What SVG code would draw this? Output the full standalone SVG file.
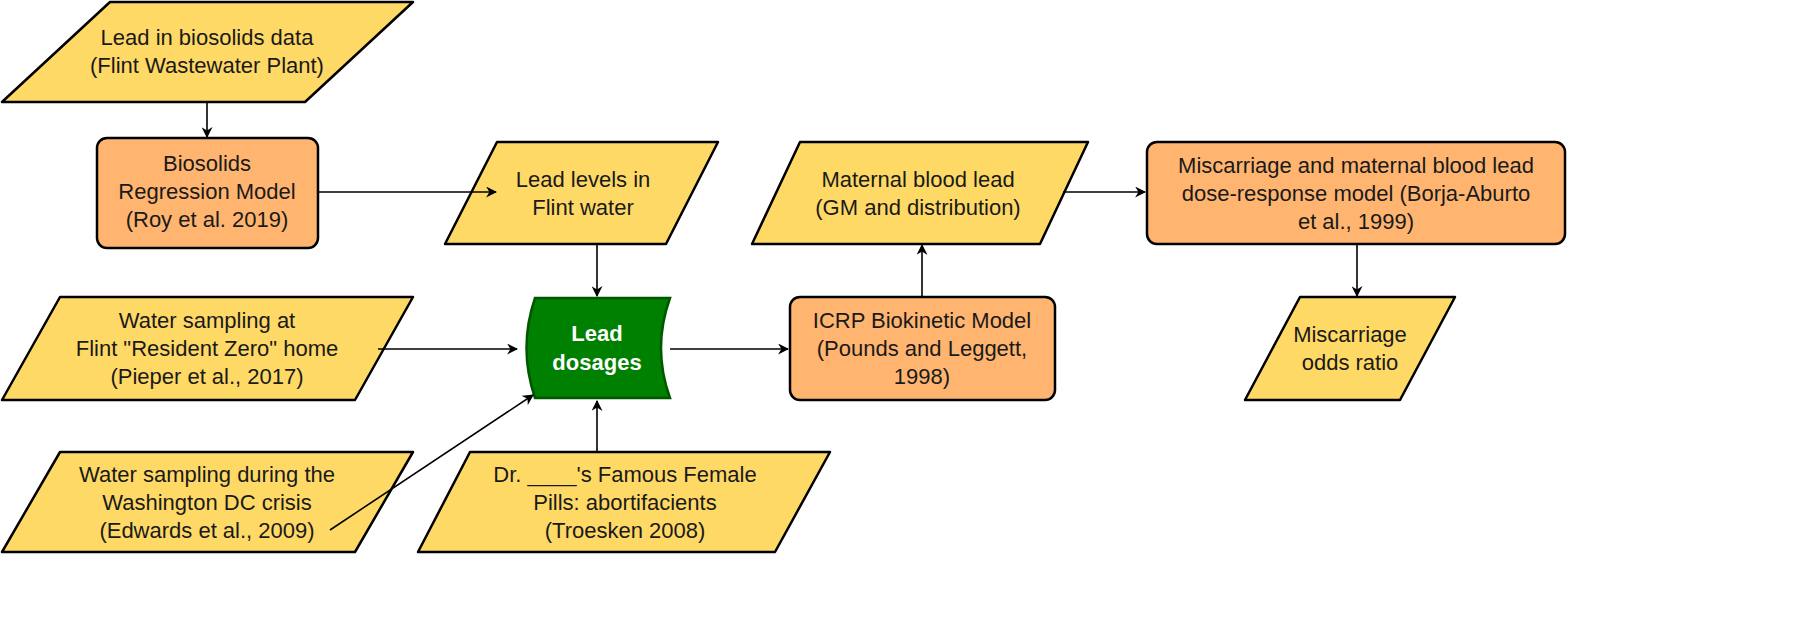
<svg xmlns="http://www.w3.org/2000/svg" width="1800" height="639" viewBox="0 0 1800 639">
<defs>
<marker id="ah" viewBox="0 0 10 10" refX="9" refY="5" markerWidth="11" markerHeight="11" markerUnits="userSpaceOnUse" orient="auto"><path d="M0,0 L10,5 L0,10 L3,5 Z" fill="#000"/></marker>
<style>
.y{fill:#FFD966;stroke:#000;stroke-width:2.5;stroke-linejoin:round}
.o{fill:#FFB570;stroke:#000;stroke-width:2.5}
.g{fill:#008000;stroke:#005700;stroke-width:2.5}
text{font-family:Arial,"Liberation Sans",sans-serif;font-size:22px;fill:#1a1a1a;text-anchor:middle}
.w{fill:#fff;font-weight:bold}
.c line{stroke:#000;stroke-width:1.6;marker-end:url(#ah)}
</style>
</defs>
<rect width="1800" height="639" fill="#fff"/>
<g id="n1"><path class="y" d="M110,2 L413,2 L305,102 L2,102 Z"/><text x="207" y="45">Lead in biosolids data</text><text x="207" y="73">(Flint Wastewater Plant)</text></g>
<g id="n2"><rect class="o" x="97" y="138" width="221" height="110" rx="10"/><text x="207" y="171">Biosolids</text><text x="207" y="199">Regression Model</text><text x="207" y="227">(Roy et al. 2019)</text></g>
<g id="n3"><path class="y" d="M497,142 L718,142 L666,244 L445,244 Z"/><text x="583" y="187">Lead levels in</text><text x="583" y="215">Flint water</text></g>
<g id="n4"><path class="y" d="M800,142 L1088,142 L1040,244 L752,244 Z"/><text x="918" y="187">Maternal blood lead</text><text x="918" y="215">(GM and distribution)</text></g>
<g id="n5"><rect class="o" x="1147" y="142" width="418" height="102" rx="10"/><text x="1356" y="173">Miscarriage and maternal blood lead</text><text x="1356" y="201">dose-response model (Borja-Aburto</text><text x="1356" y="229">et al., 1999)</text></g>
<g id="n6"><path class="y" d="M60,297 L413,297 L355,400 L2,400 Z"/><text x="207" y="328">Water sampling at</text><text x="207" y="356">Flint "Resident Zero" home</text><text x="207" y="384">(Pieper et al., 2017)</text></g>
<g id="n7"><path class="g" d="M535,298 L670,298 Q652,348 670,398 L535,398 Q518,348 535,298 Z"/><text class="w" x="597" y="341">Lead</text><text class="w" x="597" y="370">dosages</text></g>
<g id="n8"><rect class="o" x="790" y="297" width="265" height="103" rx="10"/><text x="922" y="328">ICRP Biokinetic Model</text><text x="922" y="356">(Pounds and Leggett,</text><text x="922" y="384">1998)</text></g>
<g id="n9"><path class="y" d="M1300,297 L1455,297 L1400,400 L1245,400 Z"/><text x="1350" y="342">Miscarriage</text><text x="1350" y="370">odds ratio</text></g>
<g id="n10"><path class="y" d="M60,452 L413,452 L355,552 L2,552 Z"/><text x="207" y="482">Water sampling during the</text><text x="207" y="510">Washington DC crisis</text><text x="207" y="538">(Edwards et al., 2009)</text></g>
<g id="n11"><path class="y" d="M470,452 L830,452 L775,552 L418,552 Z"/><text x="625" y="482">Dr. ____'s Famous Female</text><text x="625" y="510">Pills: abortifacients</text><text x="625" y="538">(Troesken 2008)</text></g>
<g class="c" id="connectors">
<line x1="207" y1="102" x2="207" y2="137"/>
<line x1="318" y1="192" x2="496" y2="192"/>
<line x1="597" y1="244" x2="597" y2="296"/>
<line x1="378" y1="349" x2="517" y2="349"/>
<line x1="330" y1="530" x2="533" y2="395"/>
<line x1="597" y1="452" x2="597" y2="401"/>
<line x1="670" y1="349" x2="788" y2="349"/>
<line x1="922" y1="297" x2="922" y2="245"/>
<line x1="1063" y1="192" x2="1145" y2="192"/>
<line x1="1357" y1="244" x2="1357" y2="296"/>
</g>
</svg>
